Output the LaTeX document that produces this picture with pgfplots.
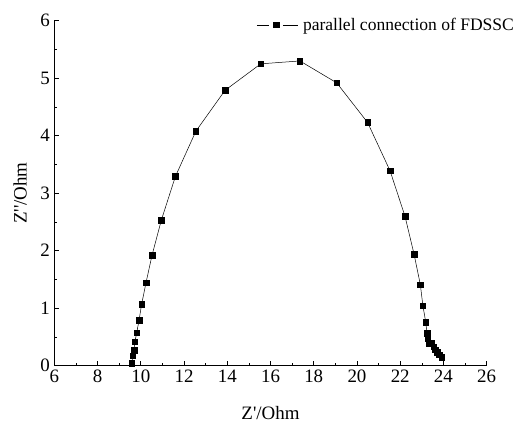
\documentclass[border=0pt]{standalone}
\usepackage{fontspec}
\setmainfont{Liberation Serif}
\usepackage{pgfplots}
\pgfplotsset{compat=1.18}

\begin{document}
\begin{tikzpicture}
\path[use as bounding box] (-54.3bp,-58.3bp) rectangle (463.7bp,365.7bp);
\begin{axis}[
    at={(0,0)}, anchor=south west,
    scale only axis,
    width=432.4bp, height=345bp,
    xmin=6, xmax=26, ymin=0, ymax=6,
    xtick={6,8,...,26}, ytick={0,1,...,6},
    minor x tick num=1, minor y tick num=1,
    axis x line=bottom, axis y line=left,
    axis line style={-, line width=0.6bp},
    tick align=inside,
    major tick length=5bp, minor tick length=3bp,
    tick style={black, line width=0.6bp},
    /pgf/number format/assume math mode=true,
    tick label style={font=\fontsize{19}{21}\selectfont},
    xticklabel style={yshift=-1bp},
    yticklabel style={xshift=-1bp},
    xlabel={Z\textquotesingle/Ohm},
    ylabel={Z\textquotesingle\textquotesingle/Ohm},
    label style={font=\fontsize{19}{21}\selectfont},
    xlabel style={at={(axis description cs:0.5,-0.137)}, anchor=center},
    ylabel style={at={(axis description cs:-0.079,0.5)}, anchor=center},
    legend style={draw=none, fill=none, at={(1.068,0.988)}, anchor=east,
        font=\fontsize{17.6}{20}\selectfont, inner sep=0pt,
        legend cell align=left},
    legend image code/.code={
        \draw[black, line width=0.5bp] (0bp,0bp) -- (12bp,0bp);
        \draw[black, line width=0.5bp] (26bp,0bp) -- (41bp,0bp);
        \fill[black] (16.5bp,-2.8bp) rectangle (22.1bp,2.8bp);
    },
    legend style={/tikz/every even column/.append style={column sep=0pt}},
]
\addplot[black, line width=0.5bp, mark=square*, mark size=2.8bp,
    mark options={solid, fill=black}] coordinates {
(9.59,0.04) (9.62,0.17) (9.69,0.27) (9.73,0.42) (9.81,0.57) (9.92,0.79)
(10.04,1.07) (10.24,1.44) (10.52,1.92) (10.95,2.53) (11.60,3.29)
(12.55,4.08) (13.90,4.79) (15.55,5.25) (17.36,5.30) (19.06,4.92)
(20.49,4.23) (21.53,3.39) (22.22,2.60) (22.64,1.94) (22.93,1.41)
(23.05,1.04) (23.18,0.76) (23.24,0.56) (23.28,0.48) (23.33,0.39)
(23.45,0.40) (23.55,0.33) (23.63,0.28) (23.72,0.23) (23.81,0.19) (23.92,0.15)
};
\addlegendentry{\hspace{3bp}parallel connection of FDSSC}
\end{axis}
\end{tikzpicture}
\end{document}
